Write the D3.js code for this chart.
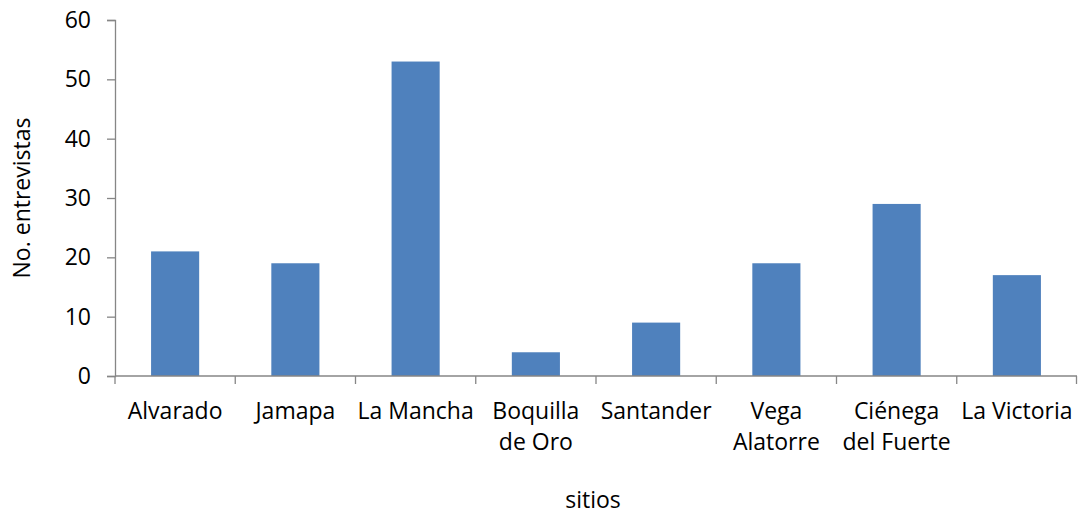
<!DOCTYPE html>
<html>
<head>
<meta charset="utf-8">
<script src="https://cdn.jsdelivr.net/npm/d3@7"></script>
<style>
  body { margin: 0; background: #fff; }
  text { font-family: "Open Sans", "DejaVu Sans", sans-serif; fill: #000; }
</style>
</head>
<body>
<div id="chart"></div>
<script>
// Chart data
const sitios = [["Alvarado"], ["Jamapa"], ["La Mancha"], ["Boquilla", "de Oro"], ["Santander"],
  ["Vega", "Alatorre"], ["Ciénega", "del Fuerte"], ["La Victoria"]];
const entrevistas = [21, 19, 53, 4, 9, 19, 29, 17];
const yTicks = [0, 10, 20, 30, 40, 50, 60];

const width = 1078, height = 518;
const margin = { top: 20, right: 1, bottom: 142, left: 115 };
const fs = "23px";

const svg = d3.select("#chart").append("svg")
  .attr("width", width)
  .attr("height", height);

const x = d3.scaleBand()
  .domain(d3.range(sitios.length))
  .range([margin.left, width - margin.right])
  .padding(0);

const y = d3.scaleLinear()
  .domain([0, 60])
  .range([height - margin.bottom, margin.top]);

const axisColor = "#868686";

// bars
const barW = x.bandwidth() * 0.4;
svg.append("g")
  .selectAll("rect")
  .data(entrevistas)
  .enter().append("rect")
  .attr("x", (d, i) => x(i) + (x.bandwidth() - barW) / 2)
  .attr("y", d => y(d))
  .attr("width", barW)
  .attr("height", d => y(0) - y(d))
  .attr("fill", "#4f81bd");

// y axis
const yAxis = svg.append("g")
  .attr("transform", `translate(${margin.left},0)`)
  .call(d3.axisLeft(y).tickValues(yTicks).tickSize(8).tickPadding(16));
yAxis.attr("font-size", null).attr("font-family", null);
yAxis.select(".domain").attr("stroke", axisColor).attr("stroke-width", 1.3);
yAxis.selectAll(".tick line").attr("stroke", axisColor).attr("stroke-width", 1.3);
yAxis.selectAll(".tick text").style("font-size", fs).attr("fill", "#000");

// x axis (ticks at band boundaries)
const xLine = svg.append("g").attr("transform", `translate(0,${y(0)})`);
xLine.append("line")
  .attr("x1", margin.left).attr("x2", width - margin.right)
  .attr("stroke", axisColor).attr("stroke-width", 1.3);
xLine.selectAll("line.tk")
  .data(d3.range(sitios.length + 1))
  .enter().append("line")
  .attr("class", "tk")
  .attr("x1", i => i < sitios.length ? x(i) : x.range()[1] - 0.5)
  .attr("x2", i => i < sitios.length ? x(i) : x.range()[1] - 0.5)
  .attr("y1", 0).attr("y2", 8)
  .attr("stroke", axisColor).attr("stroke-width", 1.3);

// x labels
const lbl = svg.append("g")
  .selectAll("text")
  .data(sitios)
  .enter().append("text")
  .attr("x", (d, i) => x(i) + x.bandwidth() / 2)
  .attr("y", 419)
  .attr("text-anchor", "middle")
  .style("font-size", fs);
lbl.selectAll("tspan")
  .data(d => d)
  .enter().append("tspan")
  .attr("x", function() { return this.parentNode.getAttribute("x"); })
  .attr("dy", (d, i) => i === 0 ? 0 : 31)
  .text(d => d);

// axis titles
svg.append("text")
  .attr("x", (margin.left + width - margin.right) / 2 - 3)
  .attr("y", 508)
  .attr("text-anchor", "middle")
  .style("font-size", fs)
  .text("sitios");

svg.append("text")
  .attr("transform", `translate(30,${(y(0) + y(60)) / 2}) rotate(-90)`)
  .attr("text-anchor", "middle")
  .style("font-size", fs)
  .text("No. entrevistas");
</script>
</body>
</html>
